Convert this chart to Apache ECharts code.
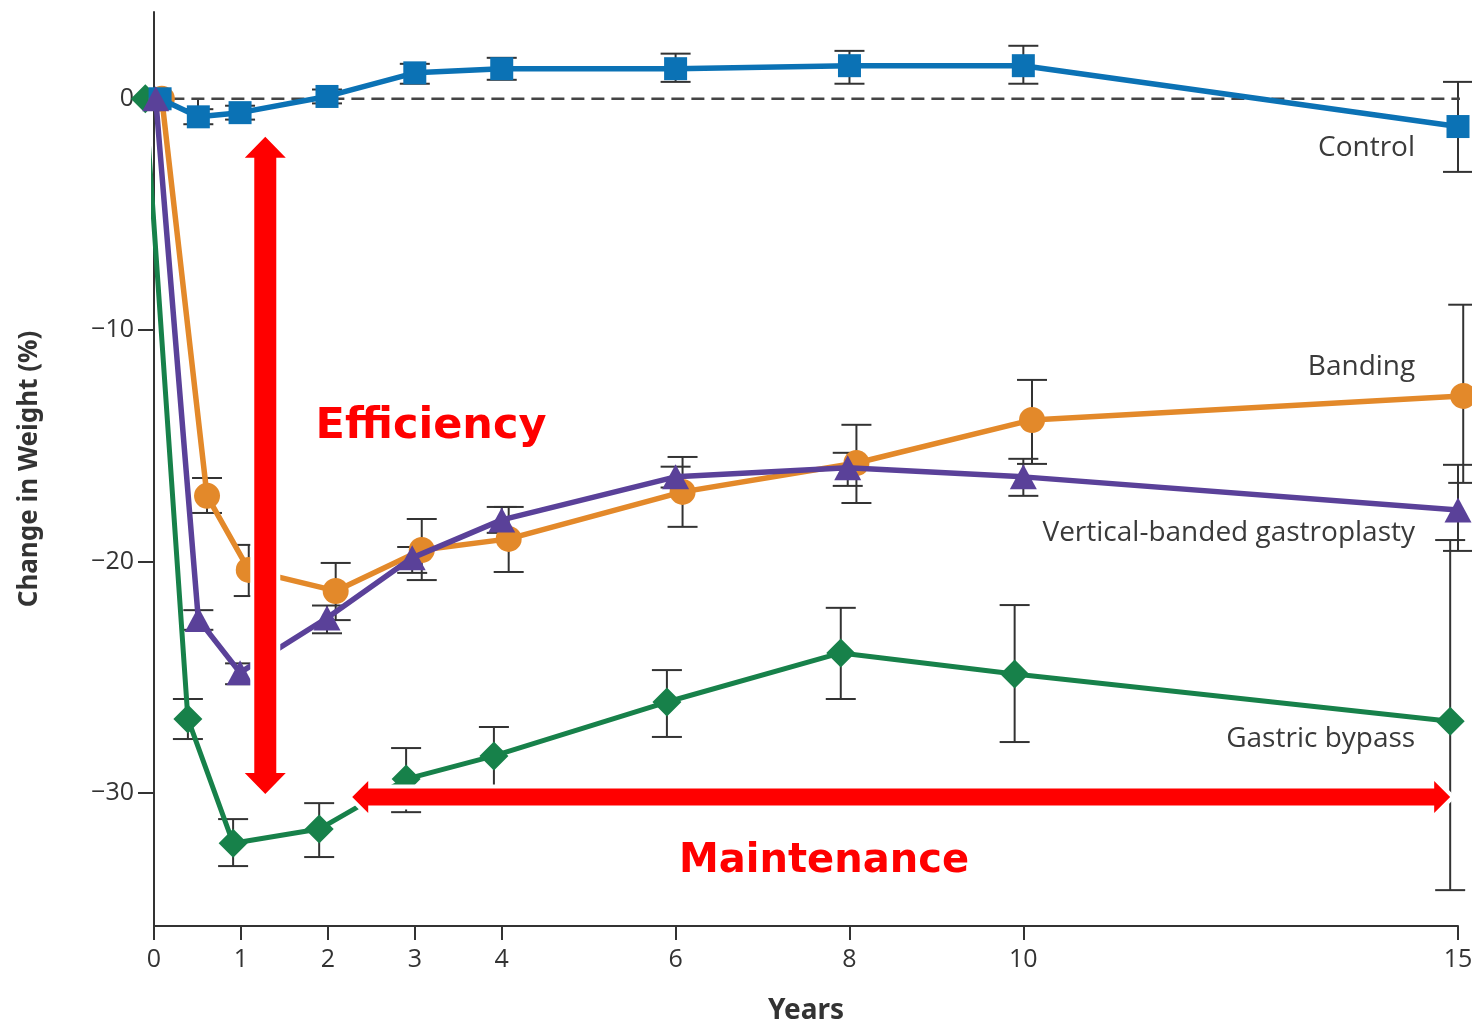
<!DOCTYPE html>
<html>
<head>
<meta charset="utf-8">
<title>Change in Weight after Bariatric Surgery</title>
<script src="https://cdn.jsdelivr.net/npm/echarts@6/dist/echarts.min.js"></script>
<style>
  html, body { margin: 0; padding: 0; background: #ffffff; }
  #chart { width: 1472px; height: 1022px; }
</style>
</head>
<body>
<div id="chart"></div>
<script>
// ---- Axis ticks ----
const xTickValues = [0, 1, 2, 3, 4, 6, 8, 10, 15];
const xMinorTickValues = [0.5];
const yTickValues = [0, -10, -20, -30];

// ---- Zero reference line (x extent) ----
const zeroLineYears = [0.2, 15.2];

// ---- Control ----
const controlYears = [0.07, 0.51, 0.99, 1.99, 3.0, 4.0, 6.0, 8.0, 10.0, 15.0];
const controlMean  = [0, -0.78, -0.6, 0.1, 1.12, 1.3, 1.3, 1.43, 1.43, -1.2];
const controlLow   = [0, -1.1, -0.9, -0.2, 0.65, 0.82, 0.73, 0.65, 0.65, -3.16];
const controlHigh  = [0, -0.45, -0.3, 0.4, 1.51, 1.77, 1.95, 2.07, 2.29, 0.73];

// ---- Banding ----
const bandingYears = [0.09, 0.61, 1.09, 2.09, 3.08, 4.08, 6.08, 8.08, 10.1, 15.06];
const bandingMean  = [0, -17.16, -20.36, -21.27, -19.5, -19.02, -16.99, -15.74, -13.88, -12.84];
const bandingLow   = [0, -17.9, -21.49, -22.53, -20.8, -20.45, -18.5, -17.47, -15.78, -16.6];
const bandingHigh  = [0, -16.39, -19.28, -20.06, -18.16, -17.64, -15.48, -14.09, -12.15, -8.9];

// ---- Vertical-banded gastroplasty ----
const vbgYears = [0.02, 0.51, 0.99, 1.99, 2.97, 4.0, 6.0, 7.98, 10.0, 15.0];
const vbgMean  = [0, -22.5, -24.8, -22.44, -19.84, -18.2, -16.34, -15.95, -16.34, -17.77];
const vbgLow   = [0, -22.95, -25.3, -23.1, -20.49, -18.76, -16.8, -16.73, -17.16, -19.54];
const vbgHigh  = [0, -22.1, -24.4, -21.9, -19.37, -17.64, -15.9, -15.3, -15.56, -15.82];

// ---- Gastric bypass ----
const bypassYears = [-0.1, 0.39, 0.91, 1.9, 2.9, 3.91, 5.9, 7.9, 9.9, 14.91];
const bypassMean  = [0, -26.8, -32.17, -31.56, -29.4, -28.4, -26.07, -23.95, -24.86, -26.9];
const bypassLow   = [0, -27.67, -33.16, -32.77, -30.83, -29.7, -27.58, -25.94, -27.8, -34.2];
const bypassHigh  = [0, -25.94, -31.13, -30.44, -28.06, -27.15, -24.69, -22.0, -21.88, -19.07];

const TEXT = '#333333';
const LABEL_FONT = '"Open Sans", "Noto Sans", sans-serif';

function lineData(xs, ys, name, labelOffset) {
  return xs.map(function (x, i) {
    const item = { value: [x, ys[i]] };
    if (i === xs.length - 1) {
      item.label = {
        show: true,
        position: 'inside',
        align: 'right',
        verticalAlign: 'middle',
        offset: labelOffset,
        formatter: name,
        color: '#3a3a3a',
        fontFamily: LABEL_FONT,
        fontSize: 28,
        textBorderWidth: 0
      };
    }
    return item;
  });
}

function errorData(xs, lo, hi) {
  const out = [];
  xs.forEach(function (x, i) {
    if (hi[i] !== lo[i]) out.push([x, lo[i], hi[i]]);
  });
  return out;
}

function renderErrorBar(params, api) {
  const x = api.value(0);
  const top = api.coord([x, api.value(2)]);
  const bottom = api.coord([x, api.value(1)]);
  const half = 15;
  const style = { stroke: '#333333', lineWidth: 2, fill: null };
  return {
    type: 'group',
    children: [
      { type: 'line', shape: { x1: top[0], y1: top[1], x2: bottom[0], y2: bottom[1] }, style: style },
      { type: 'line', shape: { x1: top[0] - half, y1: top[1], x2: top[0] + half, y2: top[1] }, style: style },
      { type: 'line', shape: { x1: bottom[0] - half, y1: bottom[1], x2: bottom[0] + half, y2: bottom[1] }, style: style }
    ]
  };
}

function errorSeries(xs, lo, hi) {
  return {
    type: 'custom',
    renderItem: renderErrorBar,
    data: errorData(xs, lo, hi),
    encode: { x: 0, y: [1, 2] },
    z: 1,
    clip: false,
    silent: true
  };
}

function lineSeries(name, xs, ys, color, symbol, size, width, z, labelOffset) {
  return {
    name: name,
    type: 'line',
    data: lineData(xs, ys, name, labelOffset),
    symbol: symbol,
    symbolSize: size,
    showAllSymbol: true,
    clip: false,
    z: z,
    itemStyle: { color: color },
    lineStyle: { color: color, width: width },
    emphasis: { disabled: true }
  };
}

const chart = echarts.init(document.getElementById('chart'), null, { renderer: 'canvas' });

const option = {
  animation: false,
  backgroundColor: '#ffffff',
  grid: { left: 154, right: 14, top: 12, bottom: 96, outerBoundsMode: 'none', containLabel: false },
  xAxis: [
    {
      type: 'value',
      min: 0,
      max: 15,
      name: 'Years',
      nameLocation: 'middle',
      nameGap: 71,
      nameTextStyle: { color: TEXT, fontFamily: '"Noto Sans", sans-serif', fontWeight: 'bold', fontSize: 28, verticalAlign: 'top' },
      axisLine: { show: true, onZero: false, lineStyle: { color: '#333333', width: 2 } },
      axisTick: { show: true, customValues: xTickValues, length: 14, lineStyle: { color: '#333333', width: 2 } },
      axisLabel: { customValues: xTickValues, margin: 21, color: TEXT, fontFamily: LABEL_FONT, fontSize: 25 },
      splitLine: { show: false }
    },
    {
      type: 'value',
      min: 0,
      max: 15,
      position: 'bottom',
      axisLine: { show: false },
      axisTick: { show: true, customValues: xMinorTickValues, length: 10, lineStyle: { color: '#333333', width: 2 } },
      axisLabel: { show: false },
      splitLine: { show: false }
    }
  ],
  yAxis: {
    type: 'value',
    min: -35.75,
    max: 3.75,
    name: 'Change in Weight (%)',
    nameLocation: 'middle',
    nameGap: 111,
    nameTextStyle: { color: TEXT, fontFamily: '"Noto Sans", sans-serif', fontWeight: 'bold', fontSize: 26 },
    axisLine: { show: true, onZero: false, lineStyle: { color: '#333333', width: 2 } },
    axisTick: { show: true, customValues: yTickValues, length: 16, lineStyle: { color: '#333333', width: 2 } },
    axisLabel: {
      customValues: yTickValues,
      margin: 20,
      color: TEXT,
      fontFamily: LABEL_FONT,
      fontSize: 25,
      formatter: function (v) { return v < 0 ? '\u2212' + Math.abs(v) : String(v); }
    },
    splitLine: { show: false }
  },
  series: [
    {
      type: 'line',
      data: zeroLineYears.map(function (x) { return [x, 0]; }),
      symbol: 'none',
      clip: false,
      silent: true,
      z: 1,
      lineStyle: { color: '#444444', width: 2.4, type: [13, 7] }
    },
    errorSeries(controlYears, controlLow, controlHigh),
    errorSeries(bandingYears, bandingLow, bandingHigh),
    errorSeries(vbgYears, vbgLow, vbgHigh),
    errorSeries(bypassYears, bypassLow, bypassHigh),
    lineSeries('Gastric bypass', bypassYears, bypassMean, '#17814a', 'diamond', [29, 29], 5, 3, [-35, 18]),
    lineSeries('Banding', bandingYears, bandingMean, '#e3892a', 'circle', 26, 5.5, 4, [-48, -29]),
    lineSeries('Control', controlYears, controlMean, '#0b72b5', 'rect', 23, 5.5, 5, [-43, 21]),
    lineSeries('Vertical-banded gastroplasty', vbgYears, vbgMean, '#5a4199', 'triangle', [27, 25], 5.5, 6, [-43, 23])
  ]
};

chart.setOption(option);

// ---- Red annotation arrows with white halo ----
function px(x, y) { return chart.convertToPixel({ gridIndex: 0 }, [x, y]); }

function verticalArrow(cx, yTop, yBot) {
  const hw = 20.5, sw = 11, hl = 21;
  return [
    [cx, yTop], [cx + hw, yTop + hl], [cx + sw, yTop + hl], [cx + sw, yBot - hl],
    [cx + hw, yBot - hl], [cx, yBot], [cx - hw, yBot - hl], [cx - sw, yBot - hl],
    [cx - sw, yTop + hl], [cx - hw, yTop + hl]
  ];
}

function horizontalArrow(cy, xL, xR) {
  const hh = 16, sh = 8.5, hl = 16;
  return [
    [xL, cy], [xL + hl, cy - hh], [xL + hl, cy - sh], [xR - hl, cy - sh],
    [xR - hl, cy - hh], [xR, cy], [xR - hl, cy + hh], [xR - hl, cy + sh],
    [xL + hl, cy + sh], [xL + hl, cy + hh]
  ];
}

const effTop = px(1.28, -1.64), effBot = px(1.28, -30.05);
const mainL = px(2.28, -30.18), mainR = px(14.91, -30.18);
const effPts = verticalArrow(effTop[0], effTop[1], effBot[1]);
const mainPts = horizontalArrow(mainL[1], mainL[0], mainR[0]);

const annotationFont = '"Comic Sans MS", "DejaVu Sans", sans-serif';

chart.setOption({
  graphic: [
    { type: 'polygon', z: 100, silent: true, shape: { points: effPts }, style: { fill: '#ffffff', stroke: '#ffffff', lineWidth: 8, lineJoin: 'miter' } },
    { type: 'polygon', z: 100, silent: true, shape: { points: mainPts }, style: { fill: '#ffffff', stroke: '#ffffff', lineWidth: 8, lineJoin: 'miter' } },
    { type: 'polygon', z: 101, silent: true, shape: { points: effPts }, style: { fill: '#ff0000' } },
    { type: 'polygon', z: 101, silent: true, shape: { points: mainPts }, style: { fill: '#ff0000' } },
    {
      type: 'text', z: 102, silent: true, x: 431, y: 427,
      style: { text: 'Efficiency', fill: '#ff0000', font: 'bold 43px ' + annotationFont, align: 'center', verticalAlign: 'middle' }
    },
    {
      type: 'text', z: 102, silent: true, x: 824, y: 862,
      style: { text: 'Maintenance', fill: '#ff0000', font: 'bold 40px ' + annotationFont, align: 'center', verticalAlign: 'middle' }
    }
  ]
});
</script>
</body>
</html>
